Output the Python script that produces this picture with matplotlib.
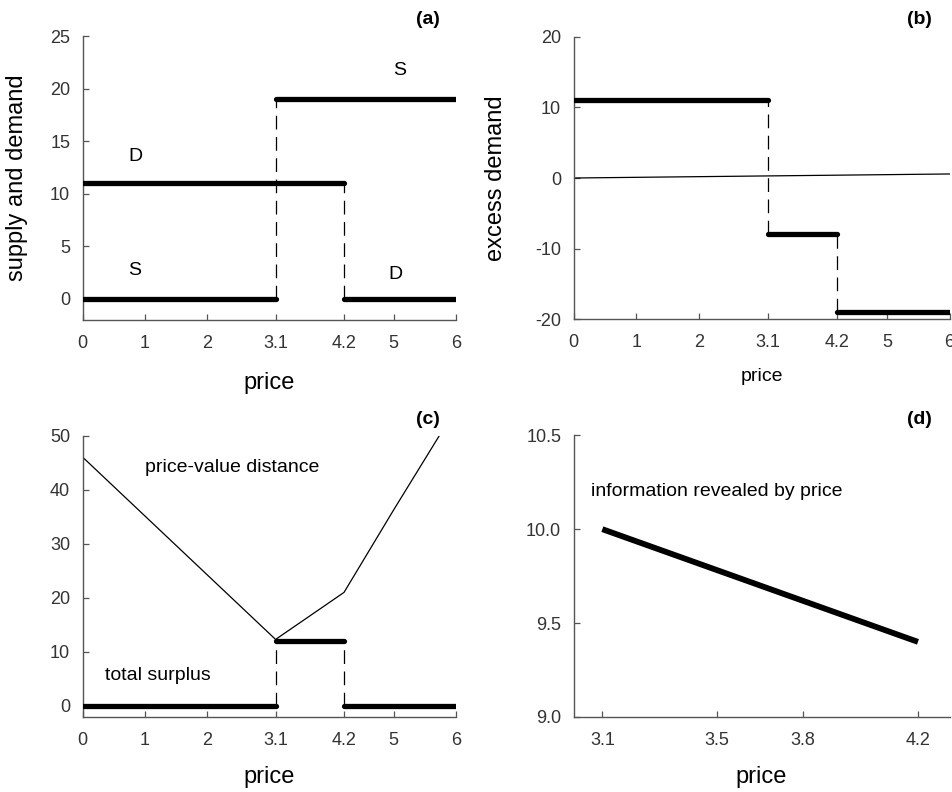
import matplotlib
matplotlib.use("Agg")
import matplotlib.pyplot as plt

plt.rcParams['font.family'] = ['Liberation Sans', 'DejaVu Sans']
plt.rcParams['axes.unicode_minus'] = False

# ---------------- data ----------------
# panel (a): supply and demand step functions
a_D_low_x = [0, 4.2];  a_D_low_y = [11, 11]
a_D_high_x = [4.2, 6]; a_D_high_y = [0, 0]
a_S_low_x = [0, 3.1];  a_S_low_y = [0, 0]
a_S_high_x = [3.1, 6]; a_S_high_y = [19, 19]
a_jump_x = [3.1, 4.2]
a_jump_lo = [0, 0]
a_jump_hi = [19, 11]

# panel (b): excess demand
b_seg_x = [[0, 3.1], [3.1, 4.2], [4.2, 6]]
b_seg_y = [11, -8, -19]
b_jump_x = [3.1, 4.2]
b_jump_lo = [-8, -19]
b_jump_hi = [11, -8]
b_zero_x = [0, 6.3]
b_zero_y = [0, 0.6]

# panel (c): total surplus and price-value distance
c_surplus_x = [[0, 3.1], [3.1, 4.2], [4.2, 6]]
c_surplus_y = [0, 12, 0]
c_jump_x = [3.1, 4.2]
c_jump_lo = [0, 0]
c_jump_hi = [12, 12]
c_dist_x = [0, 3.1, 4.2, 5.0, 6.0]
c_dist_y = [46, 12.3, 21, 36.3, 55]

# panel (d): information revealed by price
d_x = [3.1, 4.2]
d_y = [10.0, 9.4]

price_ticks = [0, 1, 2, 3.1, 4.2, 5, 6]
price_ticklabels = ['0', '1', '2', '3.1', '4.2', '5', '6']
d_ticks = [3.1, 3.5, 3.8, 4.2]
d_ticklabels = ['3.1', '3.5', '3.8', '4.2']

# ---------------- style ----------------
THICK = 3.8
THIN = 0.9
SPINE = '#555555'
TICKC = '#333333'

fig = plt.figure(figsize=(9.52, 7.92), dpi=100)

def style(ax):
    for s in ['top', 'right']:
        ax.spines[s].set_visible(False)
    for s in ['left', 'bottom']:
        ax.spines[s].set_color(SPINE)
        ax.spines[s].set_linewidth(1.0)
    ax.tick_params(direction='in', length=4, width=0.9, color=SPINE,
                   labelsize=13, labelcolor=TICKC)
    ax.tick_params(axis='x', pad=11)
    ax.tick_params(axis='y', pad=9)

def thick(ax, x, y):
    ax.plot(x, y, color='black', lw=THICK, solid_capstyle='round', zorder=3)

def dashed(ax, x, lo, hi):
    for xi, l, h in zip(x, lo, hi):
        ax.plot([xi, xi], [l, h], color='black', lw=THIN, dashes=(11, 6), zorder=2)

# (a)
ax = fig.add_axes([0.0869, 0.596, 0.3921, 0.3585])
style(ax)
thick(ax, a_D_low_x, a_D_low_y)
thick(ax, a_D_high_x, a_D_high_y)
thick(ax, a_S_low_x, a_S_low_y)
thick(ax, a_S_high_x, a_S_high_y)
dashed(ax, a_jump_x, a_jump_lo, a_jump_hi)
ax.set_xlim(0, 6); ax.set_ylim(-2, 25)
ax.set_xticks(price_ticks); ax.set_xticklabels(price_ticklabels)
ax.set_yticks([0, 5, 10, 15, 20, 25])
ax.set_xlabel('price', fontsize=17, labelpad=14)
ax.set_ylabel('supply and demand', fontsize=17)
ax.yaxis.set_label_coords(-0.147, 0.5)
ax.text(0.84, 13.5, 'D', fontsize=14, ha='center', va='center')
ax.text(0.84, 2.7, 'S', fontsize=14, ha='center', va='center')
ax.text(5.1, 21.7, 'S', fontsize=14, ha='center', va='center')
ax.text(5.02, 2.3, 'D', fontsize=14, ha='center', va='center')
fig.text(427.7/952, 1-20/792, '(a)', fontsize=14, fontweight='bold', ha='center', va='center')

# (b)
ax = fig.add_axes([0.6026, 0.597, 0.3948, 0.3565])
style(ax)
for xs, yv in zip(b_seg_x, b_seg_y):
    thick(ax, xs, [yv, yv])
dashed(ax, b_jump_x, b_jump_lo, b_jump_hi)
ax.plot(b_zero_x, b_zero_y, color='black', lw=THIN, zorder=2)
ax.set_xlim(0, 6); ax.set_ylim(-20, 20)
ax.set_xticks(price_ticks); ax.set_xticklabels(price_ticklabels)
ax.set_yticks([-20, -10, 0, 10, 20])
ax.set_xlabel('price', fontsize=14, labelpad=12)
ax.set_ylabel('excess demand', fontsize=17)
ax.yaxis.set_label_coords(-0.178, 0.5)
fig.text(919/952, 1-20/792, '(b)', fontsize=14, fontweight='bold', ha='center', va='center')

# (c)
ax = fig.add_axes([0.0869, 0.095, 0.3921, 0.355])
style(ax)
for xs, yv in zip(c_surplus_x, c_surplus_y):
    thick(ax, xs, [yv, yv])
dashed(ax, c_jump_x, c_jump_lo, c_jump_hi)
ax.plot(c_dist_x, c_dist_y, color='black', lw=THIN, zorder=2)
ax.set_xlim(0, 6); ax.set_ylim(-2, 50)
ax.set_xticks(price_ticks); ax.set_xticklabels(price_ticklabels)
ax.set_yticks([0, 10, 20, 30, 40, 50])
ax.set_xlabel('price', fontsize=17, labelpad=12)
ax.text(2.4, 44.1, 'price-value distance', fontsize=14, ha='center', va='center')
ax.text(1.2, 5.6, 'total surplus', fontsize=14, ha='center', va='center')
fig.text(427.7/952, 1-419/792, '(c)', fontsize=14, fontweight='bold', ha='center', va='center')

# (d)
ax = fig.add_axes([0.6026, 0.0947, 0.3948, 0.3557])
style(ax)
ax.plot(d_x, d_y, color='black', lw=4.2, solid_capstyle='butt', zorder=3)
ax.set_xlim(3.0, 4.31); ax.set_ylim(9.0, 10.5)
ax.set_xticks(d_ticks); ax.set_xticklabels(d_ticklabels)
ax.set_yticks([9.0, 9.5, 10.0, 10.5])
ax.set_yticklabels(['9.0', '9.5', '10.0', '10.5'])
ax.set_xlabel('price', fontsize=17, labelpad=12)
ax.text(3.5, 10.2, 'information revealed by price', fontsize=14, ha='center', va='center')
fig.text(919/952, 1-420/792, '(d)', fontsize=14, fontweight='bold', ha='center', va='center')

fig.savefig('out.png', dpi=100)
